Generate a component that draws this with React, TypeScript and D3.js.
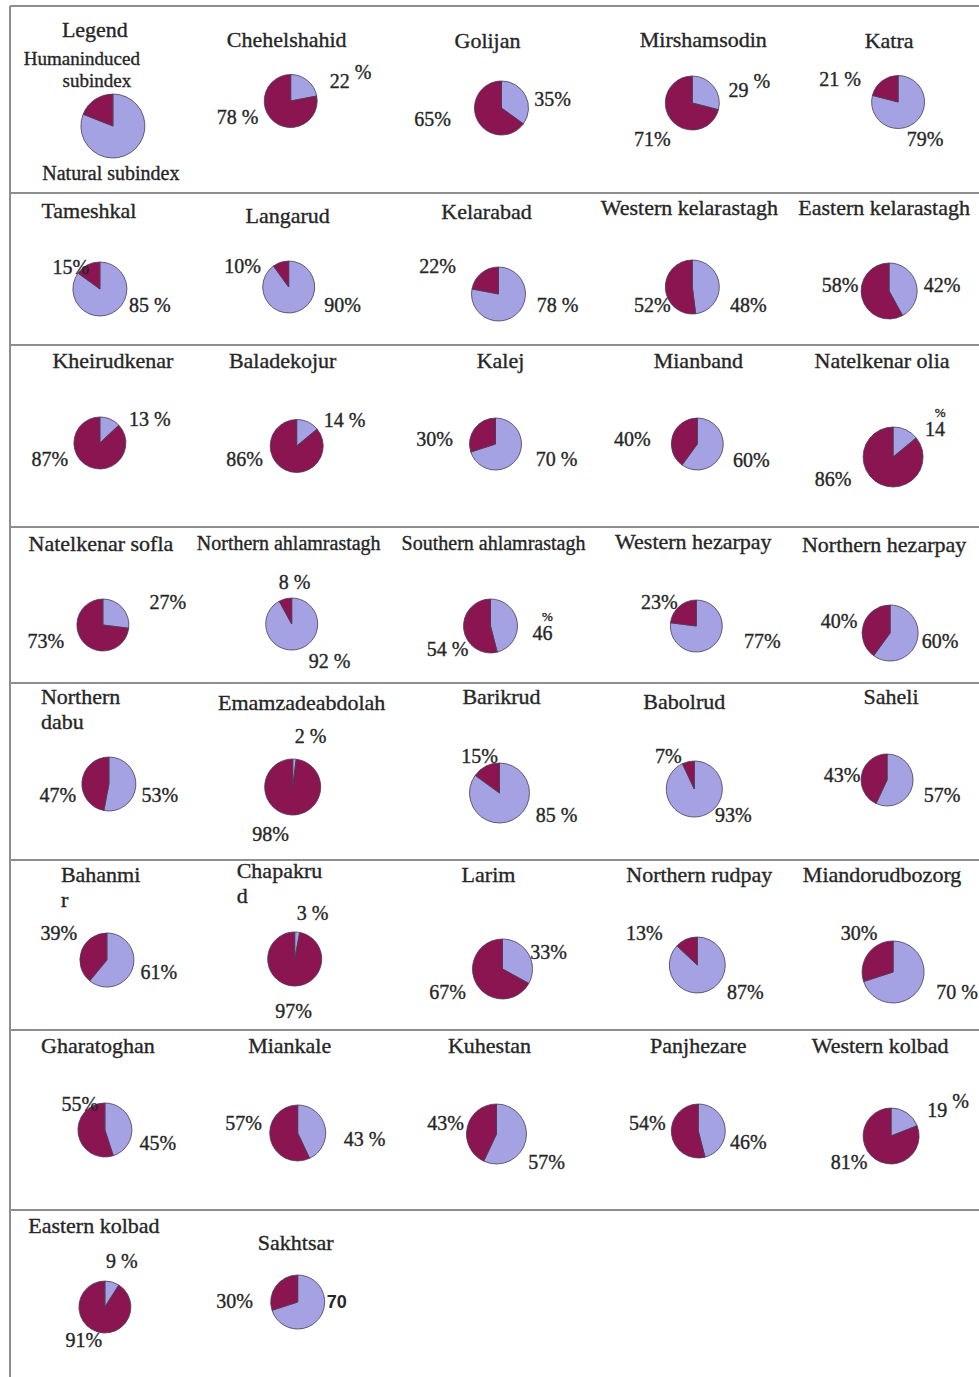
import * as d3 from "d3";

// Natural subindex (lavender) vs human-induced subindex (maroon), % per sub-basin
const titles = [
  "Chehelshahid", "Golijan", "Mirshamsodin", "Katra",
  "Tameshkal", "Langarud", "Kelarabad", "Western kelarastagh", "Eastern kelarastagh",
  "Kheirudkenar", "Baladekojur", "Kalej", "Mianband", "Natelkenar olia",
  "Natelkenar sofla", "Northern ahlamrastagh", "Southern ahlamrastagh", "Western hezarpay", "Northern hezarpay",
  "Northern\ndabu", "Emamzadeabdolah", "Barikrud", "Babolrud", "Saheli",
  "Bahanmi\nr", "Chapakru\nd", "Larim", "Northern rudpay", "Miandorudbozorg",
  "Gharatoghan", "Miankale", "Kuhestan", "Panjhezare", "Western kolbad",
  "Eastern kolbad", "Sakhtsar",
];
const natural = [
  22, 35, 29, 79,
  85, 90, 78, 48, 42,
  13, 14, 70, 60, 14,
  27, 92, 46, 77, 60,
  53, 2, 85, 93, 57,
  61, 3, 33, 87, 70,
  45, 43, 57, 46, 19,
  9, 70,
];
const human = [
  78, 65, 71, 21,
  15, 10, 22, 52, 58,
  87, 86, 30, 40, 86,
  73, 8, 54, 23, 40,
  47, 98, 15, 7, 43,
  39, 97, 67, 13, 30,
  55, 57, 43, 54, 81,
  91, 30,
];
const legendShare = [81, 19];

const rowTops = [6, 193, 345, 527, 683, 860, 1030, 1210];

// layout per cell: pie dx, dy, r | title dx, dy | natural label x, y, style | human label x, y, style
// styles: "" = "v%", s = "v %", r = raised %, k = stacked %, x = number only
type Cell = [number, number, number, number, number, number, number, string, number, number, string];
const layout: Cell[] = [
  [-10, 95, 26.5, -14, 41, 60, -13, "r", -53, 23, "s"],
  [7, 102, 27, -7, 42, 51, -2, "", -69, 18, ""],
  [4, 97, 27, 15, 41, 57, -6, "r", -40, 43, ""],
  [16, 96, 26.5, 7, 42, 27, 44, "", -58, -16, "s"],
  [-7, 96, 27, -18, 25, 50, 23, "s", -29, -15, ""],
  [-12, 94, 26, -13, 30, 54, 25, "", -46, -14, ""],
  [4, 101, 27, -8, 26, 59, 18, "s", -61, -21, ""],
  [4, 94, 27, 1, 22, 56, 25, "", -40, 25, ""],
  [7, 98, 28, 2, 22, 53, 1, "", -49, 1, ""],
  [-7, 98, 26, 6, 23, 50, -17, "s", -50, 23, ""],
  [-4, 101, 26.5, -18, 23, 48, -19, "s", -52, 20, ""],
  [1, 99, 26, 6, 23, 61, 22, "s", -61, 2, ""],
  [9, 99, 26, 10, 23, 54, 23, "", -65, 2, ""],
  [11, 112, 30, 0, 23, 42, -21, "k", -60, 29, ""],
  [-4, 98, 26, -6, 24, 65, -16, "", -57, 23, ""],
  [-9, 97, 26, -12, 23, 38, 44, "s", 3, -35, "s"],
  [-4, 99, 27, -1, 23, 52, 14, "k", -43, 30, "s"],
  [8, 99, 26, 5, 22, 66, 22, "", -37, -17, ""],
  [8, 106, 28, 2, 25, 50, 15, "", -51, -5, ""],
  [2, 101, 27, -66, 21, 51, 18, "", -51, 18, ""],
  [-8, 104, 28, 1, 27, 18, -44, "s", -22, 54, ""],
  [5, 110, 30, 7, 21, 57, 29, "s", -20, -30, ""],
  [6, 106, 28, -4, 26, 39, 33, "", -26, -26, ""],
  [5, 97, 26, 9, 21, 55, 22, "", -45, 2, ""],
  [0, 100, 27, -46, 22, 52, 19, "", -48, -20, ""],
  [-6, 99, 27, -64, 18, 18, -39, "s", -1, 59, ""],
  [8, 109, 30, -6, 22, 46, -10, "", -55, 30, ""],
  [9, 105, 28, 11, 22, 48, 34, "", -53, -25, ""],
  [11, 112, 31, 0, 22, 64, 27, "s", -34, -32, ""],
  [-2, 100, 27, -9, 23, 53, 20, "", -25, -19, ""],
  [-3, 103, 28, -11, 23, 67, 13, "s", -54, -3, ""],
  [2, 104, 30, -5, 23, 50, 35, "", -51, -4, ""],
  [10, 101, 27, 10, 23, 50, 18, "", -51, -1, ""],
  [9, 106, 28, -2, 23, 57, -19, "r", -42, 33, ""],
  [-2, 97, 26, -13, 23, 17, -39, "s", -21, 40, ""],
  [-3, 92, 27, -5, 40, 39, 6, "x", -63, 6, ""],
];

const W = 979;
const H = 1377;
const colors = ["#a4a2e2", "#8a1550"];
const serif = "'Liberation Serif', 'Times New Roman', serif";
const ink = "#262626";
const heavy = { stroke: ink, strokeWidth: 0.35 };

const col = d3.scaleBand<number>().domain(d3.range(5)).range([10, W]);
const pie = d3.pie<number>().sort(null).value((d) => d);

function Pie({ cx, cy, r, values }: { cx: number; cy: number; r: number; values: number[] }) {
  const arc = d3.arc<d3.PieArcDatum<number>>().innerRadius(0).outerRadius(r);
  return (
    <g transform={`translate(${cx},${cy})`}>
      {pie(values).map((a, i) => (
        <path key={i} d={arc(a) || ""} fill={colors[i]} stroke="#4a3a55" strokeWidth={0.8} />
      ))}
    </g>
  );
}

function Pct({ v, x, y, style }: { v: number; x: number; y: number; style: string }) {
  const common = { x, y, textAnchor: "middle" as const, fontFamily: serif, fontSize: 20, fill: ink, ...heavy };
  if (style === "r")
    return (
      <text {...common}>
        {v}
        <tspan dx={5} dy={-9}>%</tspan>
      </text>
    );
  if (style === "k")
    return (
      <g>
        <text {...common}>{v}</text>
        <text x={x + 5} y={y - 19} textAnchor="middle" fontFamily={serif} fontSize={13} fill={ink} {...heavy}>%</text>
      </g>
    );
  if (style === "x")
    return (
      <text {...common} fontFamily="'Liberation Sans', Arial, sans-serif" fontWeight="bold" fontSize={18} strokeWidth={0}>
        {v}
      </text>
    );
  return <text {...common}>{style === "s" ? `${v} %` : `${v}%`}</text>;
}

export default function App() {
  const legendX = col(0)! + col.bandwidth() / 2;
  return (
    <svg width={W} height={H} style={{ position: "absolute", left: 0, top: 0, background: "#fff" }}>
      {/* frame */}
      {rowTops.map((y) => (
        <line key={y} x1={10} x2={W} y1={y} y2={y} stroke="#8e8e8e" strokeWidth={2} />
      ))}
      <line x1={10} x2={10} y1={6} y2={H} stroke="#8e8e8e" strokeWidth={2} />

      {/* legend */}
      <g fontFamily={serif} fill={ink} textAnchor="middle" {...heavy}>
        <text x={legendX - 12} y={37} fontSize={22}>Legend</text>
        <text x={legendX - 25} y={65} fontSize={19}>Humaninduced</text>
        <text x={legendX - 10} y={87} fontSize={19}>subindex</text>
        <text x={legendX + 4} y={180} fontSize={20}>Natural subindex</text>
      </g>
      <Pie cx={legendX + 6} cy={6 + 120} r={32} values={legendShare} />

      {titles.map((t, k) => {
        const i = k + 1;
        const c = col(i % 5)! + col.bandwidth() / 2;
        const top = rowTops[Math.floor(i / 5)];
        const [pdx, pdy, r, tdx, tdy, nx, ny, ns, hx, hy, hs] = layout[k];
        const cx = c + pdx;
        const cy = top + pdy;
        const lines = t.split("\n");
        return (
          <g key={t}>
            <text
              x={c + tdx}
              y={top + tdy}
              textAnchor={lines.length > 1 ? "start" : "middle"}
              fontFamily={serif}
              fontSize={t.length > 20 ? 20 : 22}
              fill={ink}
              {...heavy}
            >
              {lines.map((l, j) => (
                <tspan key={j} x={c + tdx} dy={j === 0 ? 0 : 25}>{l}</tspan>
              ))}
            </text>
            <Pie cx={cx} cy={cy} r={r} values={[natural[k], human[k]]} />
            <Pct v={natural[k]} x={cx + nx} y={cy + ny} style={ns} />
            <Pct v={human[k]} x={cx + hx} y={cy + hy} style={hs} />
          </g>
        );
      })}
    </svg>
  );
}
